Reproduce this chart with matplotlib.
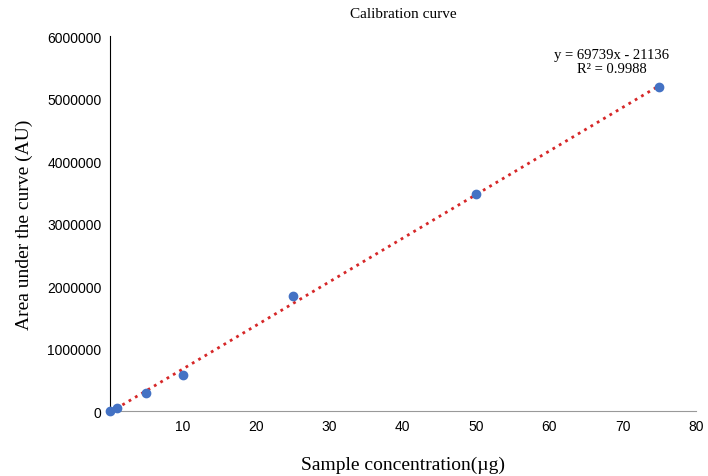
import numpy as np
import matplotlib.pyplot as plt

# Calibration data
conc = [0.1, 1, 5, 10, 25, 50, 75]
area = [5000, 50000, 290000, 580000, 1850000, 3470000, 5180000]
slope = 69739
intercept = -21136
x_ticks = [10, 20, 30, 40, 50, 60, 70, 80]
y_ticks = [0, 1000000, 2000000, 3000000, 4000000, 5000000, 6000000]

fig = plt.figure(figsize=(7.08, 4.77), dpi=100)
ax = fig.add_axes([0.155, 0.136, 0.828, 0.786])

fit_x = np.array([0, 75])
ax.plot(fit_x, slope * fit_x + intercept, color='#d62728', linestyle=':', linewidth=2,
        clip_on=False)
ax.scatter(conc, area, color='#4472c4', s=36, zorder=3, clip_on=False)

ax.set_xlim(0, 80)
ax.set_ylim(0, 6000000)
ax.set_xticks(x_ticks)
ax.set_yticks(y_ticks)
ax.set_yticklabels([str(v) for v in y_ticks])
for lab in ax.get_xticklabels() + ax.get_yticklabels():
    lab.set_fontfamily('Liberation Sans')
    lab.set_fontsize(10)
ax.tick_params(length=0, pad=6)
ax.spines['top'].set_visible(False)
ax.spines['right'].set_visible(False)
ax.spines['left'].set_color('black')
ax.spines['bottom'].set_color('#999999')

serif = 'Liberation Serif'
ax.set_title('Calibration curve', fontfamily=serif, fontsize=11, pad=14)
ax.set_xlabel('Sample concentration(µg)', fontfamily=serif, fontsize=14, labelpad=16)
ax.set_ylabel('Area under the curve (AU)', fontfamily=serif, fontsize=14, labelpad=10)
ax.text(68.5, 5600000, 'y = 69739x - 21136\nR² = 0.9988', fontfamily=serif,
        fontsize=10.5, ha='center', va='center', linespacing=1.1)

fig.savefig('out.png', dpi=100)
